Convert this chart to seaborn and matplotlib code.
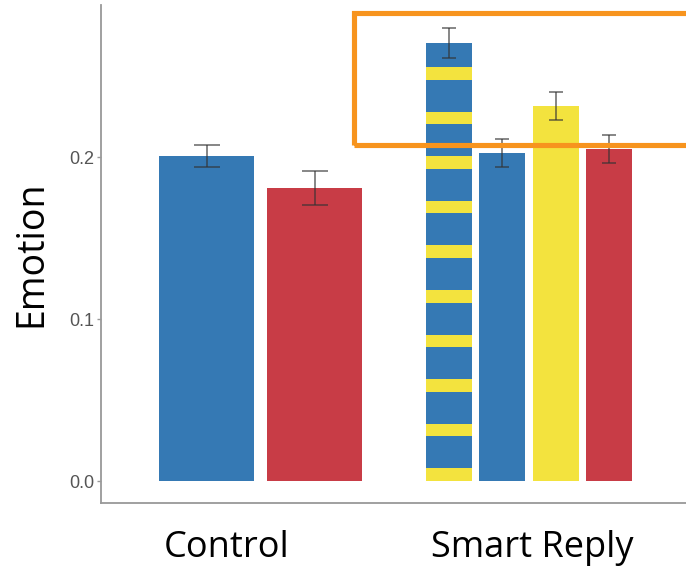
import numpy as np
import pandas as pd
import matplotlib.pyplot as plt
import seaborn as sns
from matplotlib.patches import Rectangle

# ---------------------------------------------------------
# data
# ---------------------------------------------------------
groups = ["Control", "Smart Reply"]

control_conditions = ["control_blue", "control_red"]
control_means = [0.2005, 0.1810]
control_errs = [0.0068, 0.0105]

smart_conditions = ["smart_striped", "smart_blue", "smart_yellow", "smart_red"]
smart_means = [0.2705, 0.2025, 0.2315, 0.2050]
smart_errs = [0.0090, 0.0085, 0.0085, 0.0088]

yticks = [0.0, 0.1, 0.2]

# ---------------------------------------------------------
# style
# ---------------------------------------------------------
blue = "#3579b4"
red = "#c83c46"
yellow = "#f3e33e"
orange = "#f7941e"
palette = {
    "control_blue": blue, "control_red": red,
    "smart_striped": blue, "smart_blue": blue,
    "smart_yellow": yellow, "smart_red": red,
}

sns.set_style("white")
plt.rcParams["font.family"] = ["Liberation Sans", "DejaVu Sans"]

fig = plt.figure(figsize=(6.86, 5.70), dpi=100)
ax = fig.add_axes([0.1472, 0.1175, 0.8528, 0.8737])

# group centres at 0 and 1, bars spread around them
ctrl_spacing = 0.403
smart_spacing = 0.199
ctrl_x = [0 + (i - (len(control_means) - 1) / 2) * ctrl_spacing for i in range(len(control_means))]
smart_x = [1 + (i - (len(smart_means) - 1) / 2) * smart_spacing for i in range(len(smart_means))]

df_ctrl = pd.DataFrame({"x": ctrl_x, "Emotion": control_means, "cond": control_conditions})
df_smart = pd.DataFrame({"x": smart_x, "Emotion": smart_means, "cond": smart_conditions})

sns.barplot(data=df_ctrl, x="x", y="Emotion", hue="cond", palette=palette,
            native_scale=True, width=0.88, errorbar=None, legend=False,
            saturation=1, linewidth=0, ax=ax)
n_before = len(ax.patches)
sns.barplot(data=df_smart, x="x", y="Emotion", hue="cond", palette=palette,
            native_scale=True, width=0.865, errorbar=None, legend=False,
            saturation=1, linewidth=0, ax=ax)

# yellow stripes on the first Smart Reply bar
striped = None
for p in ax.patches[n_before:]:
    cx = p.get_x() + p.get_width() / 2
    if abs(cx - smart_x[0]) < 1e-6:
        striped = p
period = 0.02755
stripe_h = 0.0078
for y0 in np.arange(0, smart_means[0], period):
    span = ax.axhspan(y0, y0 + stripe_h, color=yellow, lw=0, zorder=striped.get_zorder() + 0.1)
    span.set_clip_path(striped)

# error bars
err_kw = dict(fmt="none", ecolor="#333333", elinewidth=1.1, capthick=1.1, alpha=0.75, zorder=5)
ax.errorbar(ctrl_x, control_means, yerr=control_errs, capsize=9.4, **err_kw)
ax.errorbar(smart_x, smart_means, yerr=smart_errs, capsize=4.7, **err_kw)

# axes
ax.set_xlim(-0.597, 1.586)
ax.set_ylim(-0.0136, 0.294)
ax.set_yticks(yticks)
ax.set_yticklabels([f"{t:.1f}" for t in yticks])
ax.tick_params(axis="y", left=True, length=3, width=1, color="#999999",
               labelsize=13, labelcolor="#555555", pad=2)
ax.set_xticks([-0.127, 1.011])
ax.set_xticklabels(groups, fontsize=26, fontfamily="Open Sans", color="black")
ax.tick_params(axis="x", bottom=False, pad=16)
ax.set_xlabel("")
ax.set_ylabel("Emotion", fontsize=27, fontfamily="Open Sans", color="black", labelpad=13)

for side in ["top", "right"]:
    ax.spines[side].set_visible(False)
for side in ["left", "bottom"]:
    ax.spines[side].set_color("#999999")
    ax.spines[side].set_linewidth(1.3)

# orange highlight box (runs off the right edge)
fig.add_artist(Rectangle((354 / 686, 1 - 144.5 / 570), 0.6, 131 / 570,
                         transform=fig.transFigure, fill=False,
                         edgecolor=orange, linewidth=3.7, zorder=10))

fig.savefig("out.png", dpi=100)
